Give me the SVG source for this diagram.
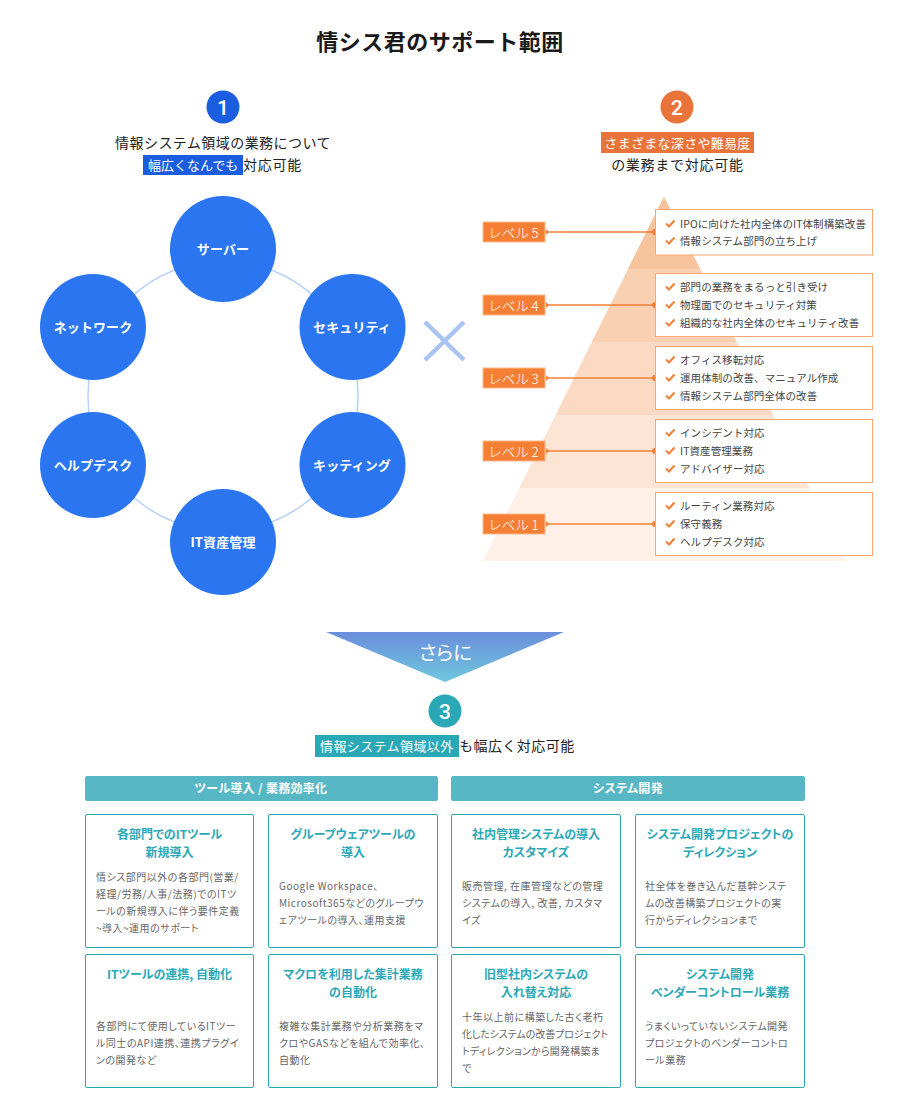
<svg xmlns="http://www.w3.org/2000/svg" width="910" height="1120" viewBox="0 0 910 1120">
<style>
text{font-family:"Noto Sans CJK JP","Noto Sans",sans-serif;font-feature-settings:"palt"}
.m{text-anchor:middle}
.title{font-size:22px;font-weight:700;fill:#1a1a1a;letter-spacing:.5px;font-feature-settings:normal}
.sub{font-size:14px;fill:#222;letter-spacing:.45px;font-feature-settings:normal}
.subw{font-size:13px;fill:#fff;letter-spacing:.3px;font-feature-settings:normal}
.num{font-size:21px;font-weight:500;fill:#fff;font-family:Roboto,sans-serif}
.cn{fill:#2b76f0}
.cl{font-size:13px;font-weight:700;fill:#fff;letter-spacing:.1px;font-feature-settings:normal}
.lvl{fill:#f47f35;stroke:#fbb98c;stroke-width:1}
.lt{font-size:13.5px;font-weight:300;fill:#fff;font-feature-settings:normal}
.lb{fill:#fff;stroke:#f9a871;stroke-width:1}
.li{font-size:10.5px;fill:#444;letter-spacing:.08px;font-feature-settings:normal}
.wire{stroke:#f47f35;stroke-width:1.3;fill:none}
.dot{fill:#f47f35}
.ck{fill:none;stroke:#f47f35;stroke-width:2}
.bar{fill:#57b7c4}
.bt{font-size:12px;font-weight:700;fill:#fff;letter-spacing:.3px}
.cb{fill:#fff;stroke:#2ba8b6;stroke-width:1}
.ct{font-size:12px;font-weight:700;fill:#2ba8b6}
.cd{font-size:10px;fill:#666;letter-spacing:.5px}
</style>
<defs>
<linearGradient id="g" x1="0" y1="0" x2="0" y2="1"><stop offset="0" stop-color="#6a8edc"/><stop offset="1" stop-color="#6fc6de"/></linearGradient>
<polyline id="c" class="ck" points="0,3.5 3,6.5 8.5,0.5"/>
<g id="wire-m"><path class="wire" d="M546 0H655"/><path class="dot" d="M546-3L549 0L546 3Z"/><circle class="dot" cx="655" cy="0" r="3"/></g>
</defs>

<text id="title" class="title m" x="440" y="50">情シス君のサポート範囲</text>

<g id="head-1">
<circle cx="223" cy="107" r="16.5" fill="#1a5ddf"/><text class="num m" x="223" y="115">1</text>
<text class="sub m" x="223" y="148">情報システム領域の業務について</text>
<rect x="143" y="155" width="100" height="20" fill="#1a5ddf"/>
<text class="subw" x="148" y="170" style="letter-spacing:0">幅広くなんでも</text>
<text class="sub" x="243" y="170" style="letter-spacing:.75px">対応可能</text>
</g>
<g id="head-2">
<circle cx="677" cy="107" r="16.5" fill="#e9743a"/><text class="num m" x="677" y="115">2</text>
<rect x="601" y="132" width="153" height="21" fill="#e9743a"/>
<text class="subw m" x="677.5" y="147.500">さまざまな深さや難易度</text>
<text class="sub m" x="677.5" y="170" style="letter-spacing:.75px">の業務まで対応可能</text>
</g>

<g id="ring"><circle cx="223" cy="396" r="135" fill="none" stroke="#b9d2f8" stroke-width="1.5"/></g>
<g id="n-server"><circle class="cn" cx="223" cy="249" r="53"/><text class="cl m" x="223" y="254">サーバー</text></g>
<g id="n-security"><circle class="cn" cx="352.500" cy="327" r="53"/><text class="cl m" x="352" y="332">セキュリティ</text></g>
<g id="n-kitting"><circle class="cn" cx="352.500" cy="465" r="53"/><text class="cl m" x="352" y="470">キッティング</text></g>
<g id="n-asset"><circle class="cn" cx="223" cy="542" r="53"/><text class="cl m" x="223" y="547">IT資産管理</text></g>
<g id="n-help"><circle class="cn" cx="93" cy="465" r="53"/><text class="cl m" x="93" y="470">ヘルプデスク</text></g>
<g id="n-network"><circle class="cn" cx="93" cy="327" r="53"/><text class="cl m" x="93" y="332">ネットワーク</text></g>

<g id="times"><path d="M425 322L464 360M464 322L425 360" stroke="#a9c4f2" stroke-width="4.5" fill="none"/></g>

<g id="pyramid">
<polygon points="664,197 483,561 846,561" fill="#fff1e8"/>
<polygon points="664,197 519.500,488 809.500,488" fill="#fde5d6"/>
<polygon points="664,197 555.800,415 773,415" fill="#fbd9c3"/>
<polygon points="664,197 592,342 736.500,342" fill="#fad0b2"/>
<polygon points="664,197 628,269 700,269" fill="#f8c49d"/>
</g>

<g id="connectors">
<use href="#wire-m" y="232"/><use href="#wire-m" y="305"/><use href="#wire-m" y="378"/><use href="#wire-m" y="451"/><use href="#wire-m" y="524"/>
</g>

<g id="level-5"><rect class="lvl" x="483" y="222" width="62" height="20"/><text class="lt m" x="513.500" y="237.500">レベル 5</text></g>
<g id="level-4"><rect class="lvl" x="483" y="295" width="62" height="20"/><text class="lt m" x="513.500" y="310.500">レベル 4</text></g>
<g id="level-3"><rect class="lvl" x="483" y="368" width="62" height="20"/><text class="lt m" x="513.500" y="383.500">レベル 3</text></g>
<g id="level-2"><rect class="lvl" x="483" y="441" width="62" height="20"/><text class="lt m" x="513.500" y="456.500">レベル 2</text></g>
<g id="level-1"><rect class="lvl" x="483" y="514" width="62" height="20"/><text class="lt m" x="513.500" y="529.500">レベル 1</text></g>

<g id="list-5"><rect class="lb" x="655.500" y="209.500" width="217" height="45.500"/>
<use href="#c" x="666" y="220"/><text class="li" x="680" y="228">IPOに向けた社内全体のIT体制構築改善</text>
<use href="#c" x="666" y="237"/><text class="li" x="680" y="245">情報システム部門の立ち上げ</text></g>
<g id="list-4"><rect class="lb" x="655.500" y="273.500" width="217" height="63"/>
<use href="#c" x="666" y="283"/><text class="li" x="680" y="291">部門の業務をまるっと引き受け</text>
<use href="#c" x="666" y="301"/><text class="li" x="680" y="309">物理面でのセキュリティ対策</text>
<use href="#c" x="666" y="319"/><text class="li" x="680" y="327">組織的な社内全体のセキュリティ改善</text></g>
<g id="list-3"><rect class="lb" x="655.500" y="346.500" width="217" height="63"/>
<use href="#c" x="666" y="356"/><text class="li" x="680" y="364">オフィス移転対応</text>
<use href="#c" x="666" y="374"/><text class="li" x="680" y="382">運用体制の改善、マニュアル作成</text>
<use href="#c" x="666" y="392"/><text class="li" x="680" y="400">情報システム部門全体の改善</text></g>
<g id="list-2"><rect class="lb" x="655.500" y="419.500" width="217" height="63"/>
<use href="#c" x="666" y="429"/><text class="li" x="680" y="437">インシデント対応</text>
<use href="#c" x="666" y="447"/><text class="li" x="680" y="455">IT資産管理業務</text>
<use href="#c" x="666" y="465"/><text class="li" x="680" y="473">アドバイザー対応</text></g>
<g id="list-1"><rect class="lb" x="655.500" y="492.500" width="217" height="63"/>
<use href="#c" x="666" y="502"/><text class="li" x="680" y="510">ルーティン業務対応</text>
<use href="#c" x="666" y="520"/><text class="li" x="680" y="528">保守義務</text>
<use href="#c" x="666" y="538"/><text class="li" x="680" y="546">ヘルプデスク対応</text></g>

<g id="more"><polygon points="326,632 564,632 445,682" fill="url(#g)"/><text class="m" x="445.500" y="660" font-size="19.500" font-weight="400" fill="#fff">さらに</text></g>

<g id="head-3">
<circle cx="445" cy="711" r="16.500" fill="#2ba8b6"/><text class="num m" x="445" y="719">3</text>
<rect x="315" y="735" width="144" height="22" fill="#2ba8b6"/>
<text class="subw" x="320" y="751" style="letter-spacing:.4px">情報システム領域以外</text>
<text class="sub" x="459" y="751">も幅広く対応可能</text>
</g>

<g id="bar-tools"><rect class="bar" x="85" y="776" width="353" height="25" rx="2"/><text class="bt m" x="261" y="793">ツール導入 / 業務効率化</text></g>
<g id="bar-dev"><rect class="bar" x="451" y="776" width="354" height="25" rx="2"/><text class="bt m" x="628" y="793">システム開発</text></g>

<g id="card-1"><rect class="cb" x="85.500" y="814.500" width="168" height="133" rx="1.500"/>
<text class="ct m" x="169.500" y="839">各部門でのITツール</text><text class="ct m" x="169.500" y="857">新規導入</text>
<text class="cd" x="96" y="881">情シス部門以外の各部門(営業/</text><text class="cd" x="96" y="898">経理/労務/人事/法務)でのITツ</text><text class="cd" x="96" y="915">ールの新規導入に伴う要件定義</text><text class="cd" x="96" y="932">~導入~運用のサポート</text></g>
<g id="card-2"><rect class="cb" x="268.500" y="814.500" width="169" height="133" rx="1.500"/>
<text class="ct m" x="353" y="839">グループウェアツールの</text><text class="ct m" x="353" y="857">導入</text>
<text class="cd" x="279" y="890">Google Workspace、</text><text class="cd" x="279" y="907">Microsoft365などのグループウ</text><text class="cd" x="279" y="924">ェアツールの導入、運用支援</text></g>
<g id="card-3"><rect class="cb" x="451.500" y="814.500" width="169" height="133" rx="1.500"/>
<text class="ct m" x="536" y="839">社内管理システムの導入</text><text class="ct m" x="536" y="857">カスタマイズ</text>
<text class="cd" x="462" y="890">販売管理, 在庫管理などの管理</text><text class="cd" x="462" y="907">システムの導入, 改善, カスタマ</text><text class="cd" x="462" y="924">イズ</text></g>
<g id="card-4"><rect class="cb" x="635.500" y="814.500" width="169" height="133" rx="1.500"/>
<text class="ct m" x="720" y="839">システム開発プロジェクトの</text><text class="ct m" x="720" y="857">ディレクション</text>
<text class="cd" x="645" y="890">社全体を巻き込んだ基幹システ</text><text class="cd" x="645" y="907" style="letter-spacing:.3px">ムの改善構築プロジェクトの実</text><text class="cd" x="645" y="924">行からディレクションまで</text></g>
<g id="card-5"><rect class="cb" x="85.500" y="954.500" width="168" height="133" rx="1.500"/>
<text class="ct m" x="169.500" y="979">ITツールの連携, 自動化</text>
<text class="cd" x="96" y="1030">各部門にて使用しているITツー</text><text class="cd" x="96" y="1047">ル同士のAPI連携、連携プラグイ</text><text class="cd" x="96" y="1064">ンの開発など</text></g>
<g id="card-6"><rect class="cb" x="268.500" y="954.500" width="169" height="133" rx="1.500"/>
<text class="ct m" x="353" y="979">マクロを利用した集計業務</text><text class="ct m" x="353" y="997">の自動化</text>
<text class="cd" x="279" y="1030">複雑な集計業務や分析業務をマ</text><text class="cd" x="279" y="1047">クロやGASなどを組んで効率化、</text><text class="cd" x="279" y="1064">自動化</text></g>
<g id="card-7"><rect class="cb" x="451.500" y="954.500" width="169" height="133" rx="1.500"/>
<text class="ct m" x="536" y="979">旧型社内システムの</text><text class="ct m" x="536" y="997">入れ替え対応</text>
<text class="cd" x="462" y="1021">十年以上前に構築した古く老朽</text><text class="cd" x="462" y="1038" style="letter-spacing:-.1px">化したシステムの改善プロジェクト</text><text class="cd" x="462" y="1055" style="letter-spacing:.2px">トディレクションから開発構築ま</text><text class="cd" x="462" y="1072">で</text></g>
<g id="card-8"><rect class="cb" x="635.500" y="954.500" width="169" height="133" rx="1.500"/>
<text class="ct m" x="720" y="979">システム開発</text><text class="ct m" x="720" y="997">ベンダーコントロール業務</text>
<text class="cd" x="645" y="1030">うまくいっていないシステム開発</text><text class="cd" x="645" y="1047" style="letter-spacing:.4px">プロジェクトのベンダーコントロ</text><text class="cd" x="645" y="1064">ール業務</text></g>
</svg>
